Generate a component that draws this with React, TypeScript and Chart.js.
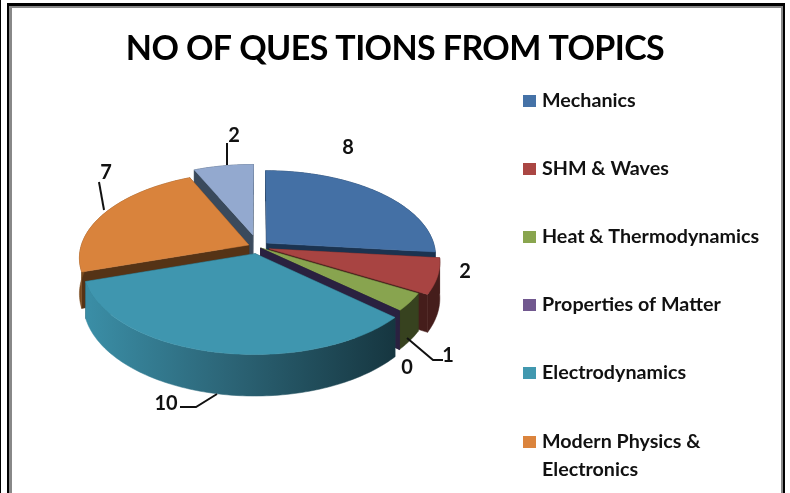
import React, { useEffect, useRef } from "react";
import { Chart, registerables } from "chart.js";

Chart.register(...registerables);

const TITLE = "NO OF QUES TIONS FROM TOPICS";
const topics = ["Mechanics", "SHM & Waves", "Heat & Thermodynamics", "Properties of Matter", "Electrodynamics", "Modern Physics &\nElectronics", ""];
const questions = [8, 2, 1, 0, 10, 7, 2];
const topColors = ["#4470A5", "#A84442", "#88A44F", "#71588F", "#3F96AF", "#D9833C", "#93A9CF"];
const sideColors = ["#1B3350", "#451D1B", "#37421F", "#2A2140", "#1C4450", "#7A4A1E", "#3A4A5C"];
const wallColors = ["#1B3350", "#451D1B", "#37421F", "#2A2140", "#1C4450", "#553316", "#3A4A5C"];
const legendColors = ["#4572A7", "#AA4643", "#89A54E", "#71588F", "#4198AF", "#DB843D", "#93A9CF"];
const explode = [0.07, 0.07, 0.02, 0.02, 0.08, 0.06, 0.15];
const drawOrder = [6, 5, 0, 1, 2, 3, 4];
const labelAt = [[348, 148], [465, 272], [448, 356], [407, 368], [166, 404], [106, 173], [234, 136]];
const leaders: number[][][] = [[], [], [[407, 338], [433, 360], [443, 360]], [], [[217, 394], [196, 407], [180, 407]], [[104, 210], [99, 182]], [[227, 165], [227, 143]]];
const legendY = [101, 169, 237, 305, 373, 442];

const PIE_DX = -137;
const TILT = 0.5;
const PERSP = 0.146;
const DEPTH = 35;

const pie3d = {
  id: "pie3d",
  beforeDraw(chart: any) {
    const c = chart.ctx;
    c.save();
    c.fillStyle = "#fff";
    c.fillRect(0, 0, 790, 493);
    c.fillStyle = "#000";
    c.fillRect(0, 0, 1, 493);
    c.fillRect(7, 3, 778, 3);
    c.fillRect(7, 3, 2, 490);
    c.fillRect(783, 3, 2, 490);
    c.fillStyle = "#888";
    c.fillRect(9, 6, 3, 487);
    c.fillRect(781, 6, 2, 487);
    c.fillRect(9, 6, 774, 2);
    c.restore();
    c.letterSpacing = "-0.6px";
  },
  beforeDatasetsDraw(chart: any) {
    const c = chart.ctx;
    c.letterSpacing = "0px";
    const arcs = chart.getDatasetMeta(0).data;
    for (const i of drawOrder) {
      const el = arcs[i];
      const { x, y, startAngle, endAngle, outerRadius } = el;
      const cx = x + PIE_DX;
      const mid = (startAngle + endAngle) / 2;
      const ox = Math.cos(mid) * explode[i];
      const oy = Math.sin(mid) * explode[i];
      const proj = (r: number, a: number, down = 0) => {
        const u = r * Math.cos(a) + ox;
        const v = r * Math.sin(a) + oy;
        const s = 1 / (1 - PERSP * v);
        return [cx + outerRadius * u * s, y + outerRadius * TILT * v * s + down * s];
      };
      const steps = Math.max(2, Math.ceil((endAngle - startAngle) / 0.02));
      const rim = (down: number) => {
        const pts: number[][] = [];
        for (let k = 0; k <= steps; k++) pts.push(proj(1, startAngle + ((endAngle - startAngle) * k) / steps, down));
        return pts;
      };
      const poly = (pts: number[][], fill: any) => {
        c.beginPath();
        pts.forEach((p, k) => (k ? c.lineTo(p[0], p[1]) : c.moveTo(p[0], p[1])));
        c.closePath();
        c.fillStyle = fill;
        c.fill();
        c.strokeStyle = fill;
        c.lineWidth = 0.5;
        c.stroke();
      };
      const wall = (a: number) => poly([proj(0, a), proj(1, a), proj(1, a, DEPTH), proj(0, a, DEPTH)], wallColors[i]);
      wall(startAngle);
      wall(endAngle);
      if (endAngle > startAngle) {
        let side: any = sideColors[i];
        if (i === 4) {
          side = c.createLinearGradient(90, 0, 395, 0);
          side.addColorStop(0, "#3A8DA5");
          side.addColorStop(0.45, "#2C6577");
          side.addColorStop(1, "#163640");
        }
        poly([...rim(0), ...rim(DEPTH).reverse()], side);
        poly([proj(0, startAngle), ...rim(0)], topColors[i]);
      }
    }
    return false;
  },
  afterDraw(chart: any) {
    const c = chart.ctx;
    c.save();
    c.fillStyle = "#111";
    c.strokeStyle = "#111";
    c.lineWidth = 2;
    c.textAlign = "center";
    c.textBaseline = "middle";
    c.font = "bold 20px Lato";
    questions.forEach((q, i) => {
      c.fillText(String(q), labelAt[i][0], labelAt[i][1]);
      const l = leaders[i];
      if (l.length) {
        c.beginPath();
        l.forEach((p, k) => (k ? c.lineTo(p[0], p[1]) : c.moveTo(p[0], p[1])));
        c.stroke();
      }
    });
    c.textAlign = "left";
    c.font = "bold 19.7px Lato";
    legendY.forEach((ly, i) => {
      c.fillStyle = legendColors[i];
      c.fillRect(523, ly - 6, 13, 12);
      c.fillStyle = "#111";
      topics[i].split("\n").forEach((t, k) => c.fillText(t, 542, ly + k * 28));
    });
    c.restore();
  },
};

export default function App() {
  const ref = useRef<HTMLCanvasElement>(null);
  useEffect(() => {
    const chart = new Chart(ref.current!, {
      type: "pie",
      data: { labels: topics, datasets: [{ data: questions, backgroundColor: topColors, borderWidth: 0 }] },
      options: {
        animation: false,
        responsive: false,
        layout: { padding: { bottom: 78 } },
        plugins: {
          legend: { display: false },
          tooltip: { enabled: false },
          title: {
            display: true,
            text: TITLE,
            color: "#000",
            font: { family: "Lato", size: 34, weight: "bold" },
            padding: { top: 29, bottom: 9.2 },
          },
        },
      },
      plugins: [pie3d],
    } as any);
    return () => chart.destroy();
  }, []);
  return (
    <div style={{ position: "absolute", left: 0, top: 0, width: 790, height: 493 }}>
      <canvas ref={ref} width={790} height={493} style={{ display: "block" }} />
    </div>
  );
}
